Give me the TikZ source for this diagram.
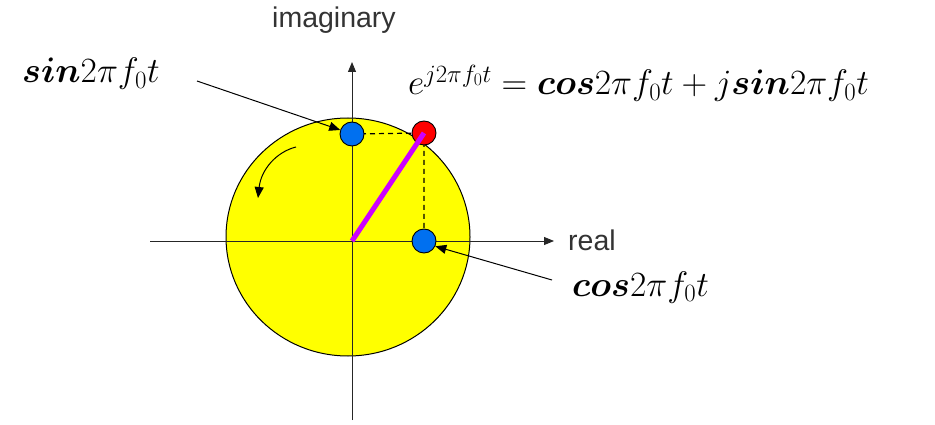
\RequirePackage{fix-cm}
\documentclass[tikz,border=0pt]{standalone}
\usepackage{fontspec}
\usepackage{amsmath}
\usepackage{bm}
\setsansfont{Liberation Sans}
\usetikzlibrary{arrows.meta,positioning}
\definecolor{phasorYellow}{RGB}{255,255,0}
\definecolor{phasorBlue}{RGB}{0,112,240}
\definecolor{phasorRed}{RGB}{255,0,0}
\definecolor{phasorViolet}{RGB}{204,0,255}
\newcommand{\phfn}[1]{\bm{#1}}

\begin{document}
\begin{tikzpicture}[x=1pt, y=-1pt,
    dot/.style={circle, draw=black, line width=0.9pt, minimum size=24pt,
                inner sep=0pt},
    axis/.style={-{Triangle[length=10pt,width=8pt]}, line width=1pt,
                 black!85},
    ptr/.style={-{Triangle[length=11pt,width=9pt]}, line width=1pt},
    axlab/.style={font=\sffamily\fontsize{28.5}{32}\selectfont, text=black!80,
                  anchor=base west, inner sep=0pt},
    mlab/.style={font=\fontsize{35.5}{40}\selectfont, anchor=base west,
                 inner sep=0pt}
  ]
  \useasboundingbox (0,0) rectangle (935,425);

  % unit circle
  \draw[fill=phasorYellow, line width=1pt] (348,237) ellipse [x radius=122, y radius=119];

  % axes
  \coordinate (xfrom) at (150,241);
  \coordinate (xto)   at (554,241);
  \coordinate (yfrom) at (352,420);
  \coordinate (yto)   at (352,62);
  \coordinate (orig)  at (352,241);
  \draw[axis] (xfrom) -- (xto);
  \draw[axis] (yfrom) -- (yto);
  \node[axlab] (real) at (568,250) {real};
  \node[axlab] (imag) at (272,28) {imaginary};

  % projections
  \coordinate (sinc) at (352,134);
  \coordinate (ec)   at (424,133);
  \coordinate (cosc) at (424,241);
  \draw[dash pattern=on 5pt off 4pt, line width=1.2pt] (sinc) -- (ec) -- (cosc);

  \node[dot, fill=phasorBlue] (sinpt) at (sinc) {};
  \node[dot, fill=phasorRed]  (ept)   at (ec)   {};
  \node[dot, fill=phasorBlue] (cospt) at (cosc) {};

  \draw[phasorViolet, line width=5pt] (orig) -- (ept.center);

  % rotation
  \coordinate (rotfrom) at (296,147);
  \coordinate (rotto)   at (258,198);
  \draw[ptr] (rotfrom) .. controls (276,152) and (261,170) .. (rotto);

  % labels
  \node[mlab] (sinlab) at (22,83) {$\phfn{sin}2\pi f_0t$};
  \node[mlab] (coslab) at (572,296) {$\phfn{cos}2\pi f_0t$};
  \node[mlab] (eqlab)  at (408,95)
    {$e^{j2\pi f_0t}=\phfn{cos}2\pi f_0t+j\phfn{sin}2\pi f_0t$};

  \coordinate (sinfrom) at (197,81);
  \coordinate (cosfrom) at (552,280);
  \draw[ptr] (sinfrom) -- (sinpt);
  \draw[ptr] (cosfrom) -- (cospt.-25);
\end{tikzpicture}
\end{document}
